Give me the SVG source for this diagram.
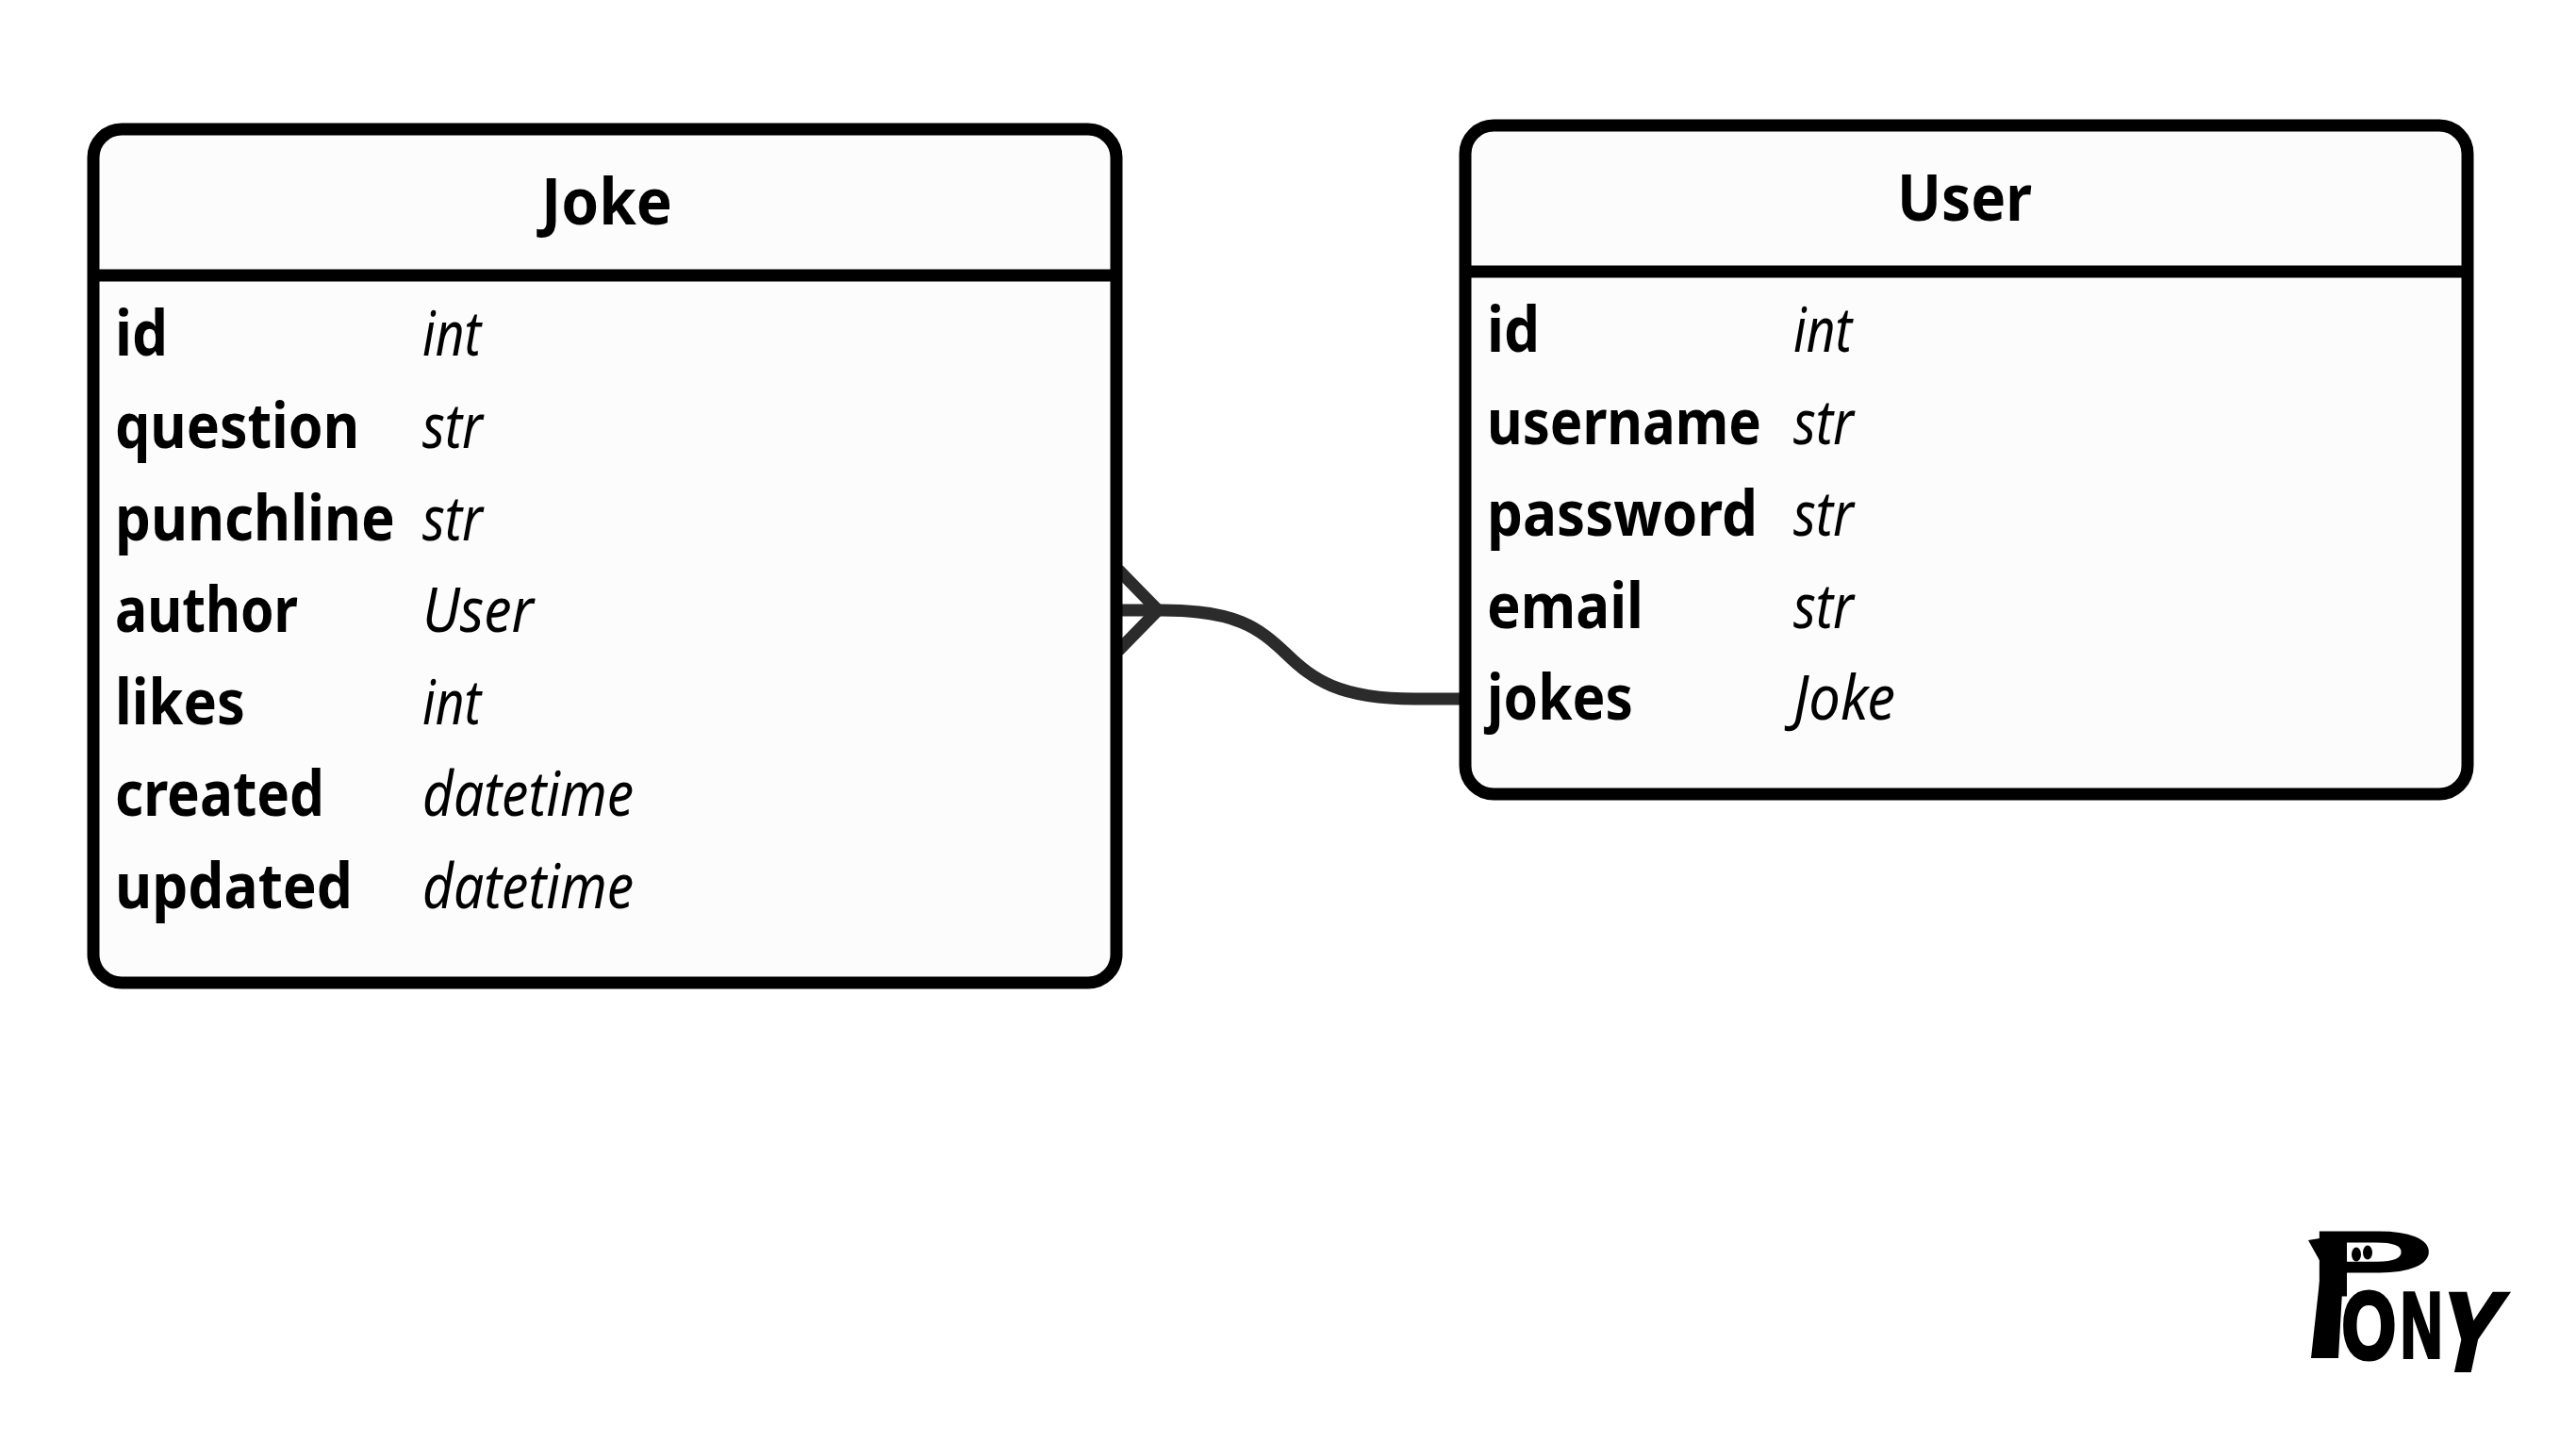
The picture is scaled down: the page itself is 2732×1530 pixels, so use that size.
<svg xmlns="http://www.w3.org/2000/svg" width="2732" height="1530" viewBox="0 0 2732 1530">
<style>
.box{fill:#fcfcfc;stroke:#000;stroke-width:13}
.div{stroke:#000;stroke-width:13}
.t{font-family:"Noto Sans",sans-serif;font-size:68px;font-weight:700;fill:#000}
.n{font-family:"Noto Sans",sans-serif;font-size:66px;font-weight:700;fill:#000}
.y{font-family:"Noto Sans",sans-serif;font-size:66px;font-style:italic;fill:#000}
.c{fill:none;stroke:#2b2b2b;stroke-width:13}
.logo{font-family:"Liberation Sans",sans-serif;font-weight:700;fill:#000;stroke:#000}
</style>
<rect width="2732" height="1530" fill="#fff"/>
<g id="connectors">
<path class="c" d="M1186 647H1232C1310 647 1335 665 1365 694C1392 720 1420 741 1500 741H1548"/>
<path class="c" d="M1186 604L1228 647L1186 690"/>
</g>
<g id="joke">
<rect class="box" x="99" y="137" width="1085" height="905" rx="30"/>
<line class="div" x1="99" y1="292" x2="1184" y2="292"/>
<text class="t" x="574" y="238" textLength="139" lengthAdjust="spacingAndGlyphs">Joke</text>
<text class="n" x="122" y="377" textLength="56" lengthAdjust="spacingAndGlyphs">id</text><text class="y" x="448" y="377" textLength="62" lengthAdjust="spacingAndGlyphs">int</text>
<text class="n" x="122" y="475" textLength="259" lengthAdjust="spacingAndGlyphs">question</text><text class="y" x="448" y="475" textLength="64" lengthAdjust="spacingAndGlyphs">str</text>
<text class="n" x="122" y="573" textLength="297" lengthAdjust="spacingAndGlyphs">punchline</text><text class="y" x="448" y="573" textLength="64" lengthAdjust="spacingAndGlyphs">str</text>
<text class="n" x="122" y="670" textLength="194" lengthAdjust="spacingAndGlyphs">author</text><text class="y" x="448" y="670" textLength="118" lengthAdjust="spacingAndGlyphs">User</text>
<text class="n" x="122" y="768" textLength="138" lengthAdjust="spacingAndGlyphs">likes</text><text class="y" x="448" y="768" textLength="62" lengthAdjust="spacingAndGlyphs">int</text>
<text class="n" x="122" y="865" textLength="222" lengthAdjust="spacingAndGlyphs">created</text><text class="y" x="448" y="865" textLength="224" lengthAdjust="spacingAndGlyphs">datetime</text>
<text class="n" x="122" y="963" textLength="252" lengthAdjust="spacingAndGlyphs">updated</text><text class="y" x="448" y="963" textLength="224" lengthAdjust="spacingAndGlyphs">datetime</text>
</g>
<g id="user">
<rect class="box" x="1554" y="133" width="1063" height="709" rx="30"/>
<line class="div" x1="1554" y1="288" x2="2617" y2="288"/>
<text class="t" x="2012" y="234" textLength="143" lengthAdjust="spacingAndGlyphs">User</text>
<text class="n" x="1577" y="373" textLength="56" lengthAdjust="spacingAndGlyphs">id</text><text class="y" x="1902" y="373" textLength="62" lengthAdjust="spacingAndGlyphs">int</text>
<text class="n" x="1577" y="471" textLength="291" lengthAdjust="spacingAndGlyphs">username</text><text class="y" x="1902" y="471" textLength="64" lengthAdjust="spacingAndGlyphs">str</text>
<text class="n" x="1577" y="568" textLength="287" lengthAdjust="spacingAndGlyphs">password</text><text class="y" x="1902" y="568" textLength="64" lengthAdjust="spacingAndGlyphs">str</text>
<text class="n" x="1577" y="666" textLength="166" lengthAdjust="spacingAndGlyphs">email</text><text class="y" x="1902" y="666" textLength="64" lengthAdjust="spacingAndGlyphs">str</text>
<text class="n" x="1577" y="763" textLength="155" lengthAdjust="spacingAndGlyphs">jokes</text><text class="y" x="1902" y="763" textLength="108" lengthAdjust="spacingAndGlyphs">Joke</text>
</g>
<g id="logo">
<text class="logo" transform="translate(2449 1372) scale(2.15 1)" font-size="92" style="font-weight:400" stroke-width="5">P</text>
<polygon points="2448,1315 2490,1308 2487,1317 2480,1440 2451,1440 2462,1340"/>
<ellipse cx="2499" cy="1330" rx="5" ry="7.5"/>
<ellipse cx="2511" cy="1328" rx="5" ry="7.5"/>
<text class="logo" transform="translate(2484 1440) scale(0.76 1.05)" font-size="96" stroke-width="5">O</text>
<text class="logo" transform="translate(2546 1439) scale(0.64 1.02)" font-size="96" stroke-width="4">N</text>
<text class="logo" transform="translate(2582 1452) skewX(-12) scale(0.95 1.2)" font-size="96" stroke-width="5">Y</text>
</g>
</svg>
